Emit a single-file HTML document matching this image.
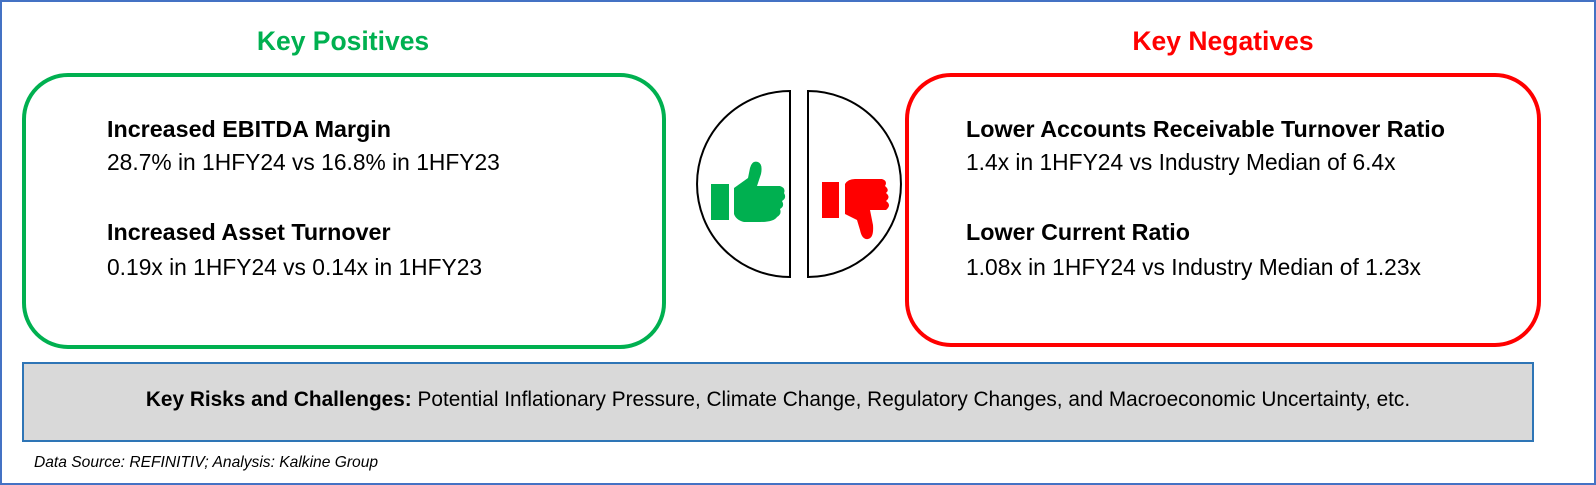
<!DOCTYPE html>
<html><head><meta charset="utf-8"><style>
body{margin:0;width:1596px;height:485px;position:relative;background:#fff;font-family:"Liberation Sans",sans-serif;overflow:hidden}
.abs{position:absolute}
.frame{left:0;top:0;width:1592px;height:481px;border:2px solid #4472c4}
.title{top:26px;font-size:26.5px;font-weight:bold;text-align:center;width:400px}
.box{border-radius:46px;border:4px solid}
.t{font-size:22.8px;color:#000;white-space:nowrap}
.b{font-weight:bold;font-size:23.3px}
</style></head><body>
<div class="abs frame"></div>
<div class="abs title" style="left:143px;color:#00b050">Key Positives</div>
<div class="abs title" style="left:1023px;color:#ff0000">Key Negatives</div>
<div class="abs box" style="left:22px;top:73px;width:636px;height:268px;border-color:#00b050"></div>
<div class="abs box" style="left:905px;top:73px;width:628px;height:266px;border-color:#ff0000"></div>
<div class="abs t b" style="left:107px;top:116px">Increased EBITDA Margin</div>
<div class="abs t" style="left:107px;top:149px">28.7% in 1HFY24 vs 16.8% in 1HFY23</div>
<div class="abs t b" style="left:107px;top:219px">Increased Asset Turnover</div>
<div class="abs t" style="left:107px;top:254px">0.19x in 1HFY24 vs 0.14x in 1HFY23</div>
<div class="abs t b" style="left:966px;top:116px">Lower Accounts Receivable Turnover Ratio</div>
<div class="abs t" style="left:966px;top:149px">1.4x in 1HFY24 vs Industry Median of 6.4x</div>
<div class="abs t b" style="left:966px;top:219px">Lower Current Ratio</div>
<div class="abs t" style="left:966px;top:254px">1.08x in 1HFY24 vs Industry Median of 1.23x</div>
<svg class="abs" style="left:660px;top:80px" width="260" height="200">
<path d="M130 11 A93 93 0 0 0 130 197 Z" fill="#fff" stroke="#000" stroke-width="2"/>
<path d="M148 11 A93 93 0 0 1 148 197 Z" fill="#fff" stroke="#000" stroke-width="2"/>
<g fill="#00b050">
<rect x="51" y="104" width="18" height="36"/>
<path d="M74 108 L88 98 L90 88 Q92 80 98 82 Q103 84 101 94 L97 106 L120 106 Q126 108 124 113 Q127 118 122 121 Q125 126 120 129 Q122 134 117 137 Q114 142 100 142 L84 142 Q76 140 74 134 Z"/>
</g>
<g fill="#ff0000">
<rect x="162" y="102" width="17" height="36"/>
<path d="M185 104 Q188 99 195 99 L222 99 Q228 101 225 106 Q230 110 226 113 Q231 117 226 121 Q232 125 226 130 L210 130 L213 145 Q214 158 208 159 Q202 160 200 150 L197 140 L185 134 Z"/>
</g>
</svg>
<div class="abs" style="left:22px;top:362px;width:1508px;height:76px;background:#d9d9d9;border:2px solid #2e75b6"></div>
<div class="abs t" style="left:22px;top:388px;width:1512px;text-align:center;font-size:20.8px"><b>Key Risks and Challenges:</b> Potential Inflationary Pressure, Climate Change, Regulatory Changes, and Macroeconomic Uncertainty, etc.</div>
<div class="abs" style="left:34px;top:454px;font-size:15.6px;font-style:italic">Data Source: REFINITIV; Analysis: Kalkine Group</div>
</body></html>
